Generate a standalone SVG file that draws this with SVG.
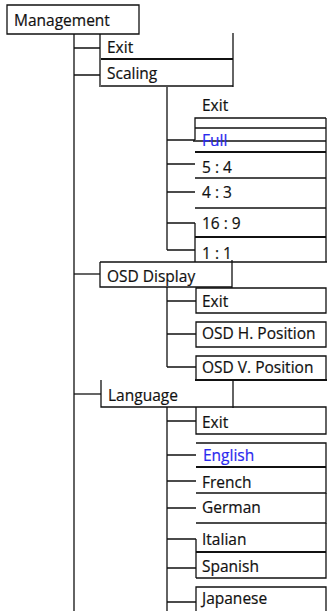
<svg xmlns="http://www.w3.org/2000/svg" width="327" height="611" viewBox="0 0 327 611">
<style>
.bg{fill:#ffffff}
.ln{stroke:#111;stroke-width:1.3;fill:none}
.tk{stroke:#111;stroke-width:2;fill:none}
.t{font-family:"Open Sans","Noto Sans",sans-serif;font-size:15.5px;fill:#111;stroke:#111;stroke-width:0.2}
.b{fill:#2a2aee;stroke:#2a2aee}
</style>
<rect class="bg" x="0" y="0" width="327" height="611"/>
<g id="connectors">
<path class="ln" d="M74,34V611 M100,34V87 M74,48H100 M74,75H100"/>
<path class="ln" d="M167,87V250 M167,140H195 M167,164H195 M167,192H195 M167,223H195 M167,250H195"/>
<path class="ln" d="M74,274H100"/>
<path class="ln" d="M167,287V367 M167,301H196 M167,334H196 M167,367H196"/>
<path class="ln" d="M74,394H101"/>
<path class="ln" d="M167,407V611 M167,421H196 M167,455H196 M167,481H196 M167,508H196 M167,539H196 M167,568H196 M167,602H196"/>
</g>
<g id="n-management">
<path class="ln" d="M7,5H139V34H7Z"/>
<text class="t" x="14" y="26">Management</text>
</g>
<g id="n-exit1">
<path class="ln" d="M233,33V87"/>
<path class="tk" d="M101,59H233"/>
<text class="t" x="107" y="53">Exit</text>
</g>
<g id="n-scaling">
<path class="ln" d="M101,86H233"/>
<text class="t" x="107" y="79">Scaling</text>
</g>
<g id="n-s-exit">
<text class="t" x="202" y="111">Exit</text>
</g>
<g id="n-full">
<path class="ln" d="M195,140V118H326 M195,128H326 M193,141H326"/>
<path class="tk" d="M195,152H326"/>
<text class="t b" x="202" y="146">Full</text>
</g>
<g id="n-54">
<path class="ln" d="M195,178H326"/>
<text class="t" x="202" y="173">5 : 4</text>
</g>
<g id="n-43">
<path class="ln" d="M195,208H326"/>
<text class="t" x="202" y="198">4 : 3</text>
</g>
<g id="n-169">
<path class="ln" d="M195,223V262"/>
<path class="tk" d="M195,237H326"/>
<text class="t" x="202" y="229">16 : 9</text>
</g>
<g id="n-11">
<path class="ln" d="M326,118V262"/>
<text class="t" x="202" y="259">1 : 1</text>
</g>
<g id="n-osd">
<path class="ln" d="M100,262H327 M100,262V287H232 M232,260V288"/>
<text class="t" x="107" y="282">OSD Display</text>
</g>
<g id="n-osd-exit">
<path class="ln" d="M196,288H326V313H196Z"/>
<text class="t" x="202" y="307">Exit</text>
</g>
<g id="n-osd-h">
<path class="ln" d="M196,322H326V347H196Z"/>
<text class="t" x="202" y="339">OSD H. Position</text>
</g>
<g id="n-osd-v">
<path class="ln" d="M196,380V356H326V380"/>
<path class="tk" d="M195,380H327"/>
<text class="t" x="202" y="373">OSD V. Position</text>
</g>
<g id="n-language">
<path class="ln" d="M101,380V407H233 M233,380V408"/>
<text class="t" x="108" y="401">Language</text>
</g>
<g id="n-l-exit">
<path class="ln" d="M233,407H326V434H196V407"/>
<text class="t" x="202" y="428">Exit</text>
</g>
<g id="n-english">
<path class="ln" d="M196,443H326V467"/>
<path class="tk" d="M196,467H326"/>
<text class="t b" x="203" y="461">English</text>
</g>
<g id="n-french">
<path class="ln" d="M196,493H326V467"/>
<text class="t" x="202" y="488">French</text>
</g>
<g id="n-german">
<path class="ln" d="M196,523H326V493"/>
<text class="t" x="202" y="513">German</text>
</g>
<g id="n-italian">
<path class="ln" d="M196,539V578 M326,523V552"/>
<path class="tk" d="M196,552H326"/>
<text class="t" x="202" y="545">Italian</text>
</g>
<g id="n-spanish">
<path class="ln" d="M196,578H326V552"/>
<text class="t" x="202" y="572">Spanish</text>
</g>
<g id="n-japanese">
<path class="ln" d="M196,611V587H326V611"/>
<text class="t" x="202" y="604">Japanese</text>
</g>
</svg>
